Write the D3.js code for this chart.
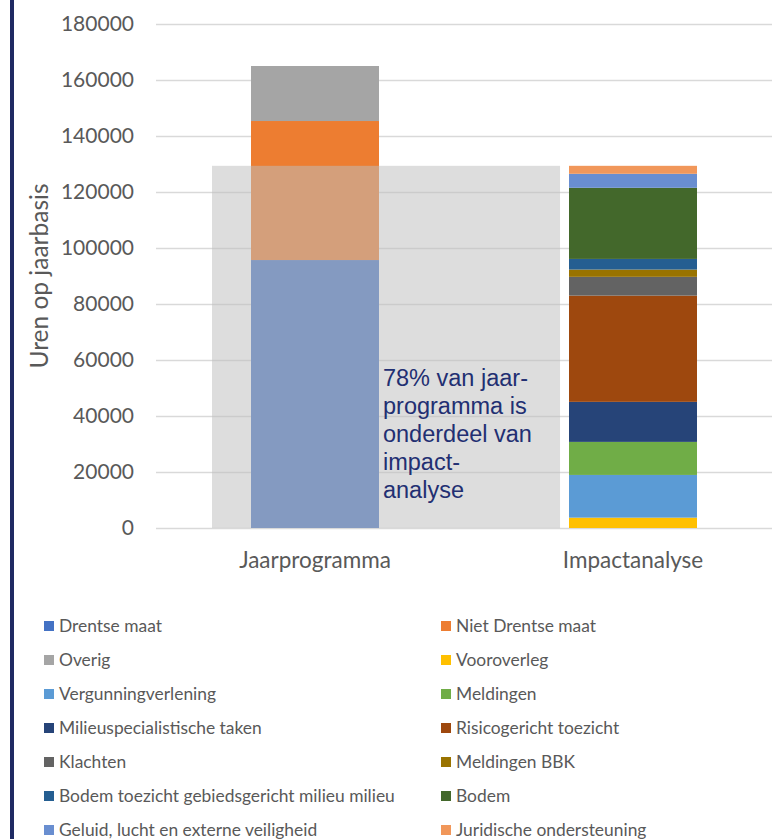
<!DOCTYPE html>
<html><head><meta charset="utf-8">
<script src="https://cdn.jsdelivr.net/npm/d3@7"></script>
<style>body{margin:0;background:#fff}svg{display:block}</style>
</head><body>
<svg id="c" width="772" height="839"></svg>
<script>
const categories = ["Jaarprogramma", "Impactanalyse"];
const seriesNames = ["Drentse maat","Niet Drentse maat","Overig","Vooroverleg","Vergunningverlening","Meldingen","Milieuspecialistische taken","Risicogericht toezicht","Klachten","Meldingen BBK","Bodem toezicht gebiedsgericht milieu milieu","Bodem","Geluid, lucht en externe veiligheid","Juridische ondersteuning"];
const jaarValues =   [95700, 49650, 19650, 0, 0, 0, 0, 0, 0, 0, 0, 0, 0, 0];
const impactValues = [0, 0, 0, 3700, 15250, 11800, 14300, 37950, 6700, 2600, 3800, 25400, 5000, 2850];
const seriesColors = ["#4472C4","#ED7D31","#A5A5A5","#FFC000","#5B9BD5","#70AD47","#264478","#9E480E","#636363","#997300","#255E91","#43682B","#698ED0","#F1975A"];
const yTicks = [0,20000,40000,60000,80000,100000,120000,140000,160000,180000];
const yTitle = "Uren op jaarbasis";
const noteLines = ["78% van jaar-","programma is","onderdeel van","impact-","analyse"];

const svg = d3.select("#c");
const FONT = "Lato, 'Open Sans', sans-serif";

svg.append("rect").attr("x",10).attr("y",0).attr("width",4).attr("height",839).attr("fill","#1f2a63");

const y = d3.scaleLinear().domain([0,180000]).range([528,24]);
const x = d3.scaleBand().domain(categories).range([156,792]).paddingInner(0.5975).paddingOuter(0.29875);

// gridlines + y axis
const yAxis = d3.axisLeft(y).tickValues(yTicks).tickSize(-(772-156)).tickFormat(d3.format("d")).tickPadding(22);
const ga = svg.append("g").attr("transform","translate(156,0)").call(yAxis);
ga.select(".domain").remove();
ga.selectAll(".tick line").attr("stroke","#d9d9d9").attr("stroke-width",1.5);
ga.selectAll(".tick text").attr("fill","#595959").attr("font-family",FONT).attr("font-size",21);

// y title
svg.append("text").attr("transform","translate(48,276) rotate(-90)").attr("text-anchor","middle")
  .attr("font-family",FONT).attr("font-size",24.5).attr("fill","#595959").text(yTitle);

// stacked data
const rows = categories.map((c,i)=>{const o={cat:c}; seriesNames.forEach((s,j)=>{o[s]= i===0?jaarValues[j]:impactValues[j];}); return o;});
const stack = d3.stack().keys(seriesNames)(rows);
const color = d3.scaleOrdinal().domain(seriesNames).range(seriesColors);

svg.append("g").selectAll("g").data(stack).join("g").attr("fill",d=>color(d.key))
  .selectAll("rect").data(d=>d).join("rect")
  .attr("x",d=>x(d.data.cat)).attr("width",x.bandwidth())
  .attr("y",d=>y(d[1])).attr("height",d=>y(d[0])-y(d[1]));

// overlay
const impactTotal = d3.sum(impactValues);
const ox0 = x("Jaarprogramma") - 39, ox1 = x("Impactanalyse") - 9;
svg.append("rect").attr("x",ox0).attr("y",y(impactTotal)).attr("width",ox1-ox0).attr("height",y(0)-y(impactTotal))
  .attr("fill","rgb(190,190,190)").attr("fill-opacity",0.524);

// note
const nt = svg.append("text").attr("font-family","'Liberation Sans', Arial, sans-serif").attr("font-size",23.5).attr("fill","#222f72");
noteLines.forEach((l,i)=>nt.append("tspan").attr("x",x("Jaarprogramma")+x.bandwidth()+4).attr("y",386+i*28).text(l));

// x axis labels
const xAxis = d3.axisBottom(x).tickSize(0).tickPadding(0);
const gx = svg.append("g").attr("transform","translate(0,568)").call(xAxis);
gx.select(".domain").remove();
gx.selectAll(".tick text").attr("fill","#595959").attr("font-family",FONT).attr("font-size",22.5).attr("dy","0");

// legend
const lg = svg.append("g").attr("font-family",FONT).attr("font-size",17.4).attr("fill","#595959");
seriesNames.forEach((s,i)=>{
  const col=i%2,row=Math.floor(i/2);
  const lx = col===0?44:441, ly = 626+row*34;
  lg.append("rect").attr("x",lx).attr("y",ly-5).attr("width",10).attr("height",10).attr("fill",color(s));
  lg.append("text").attr("x",lx+15).attr("y",ly).attr("dy","0.36em").text(s);
});
</script>
</body></html>
